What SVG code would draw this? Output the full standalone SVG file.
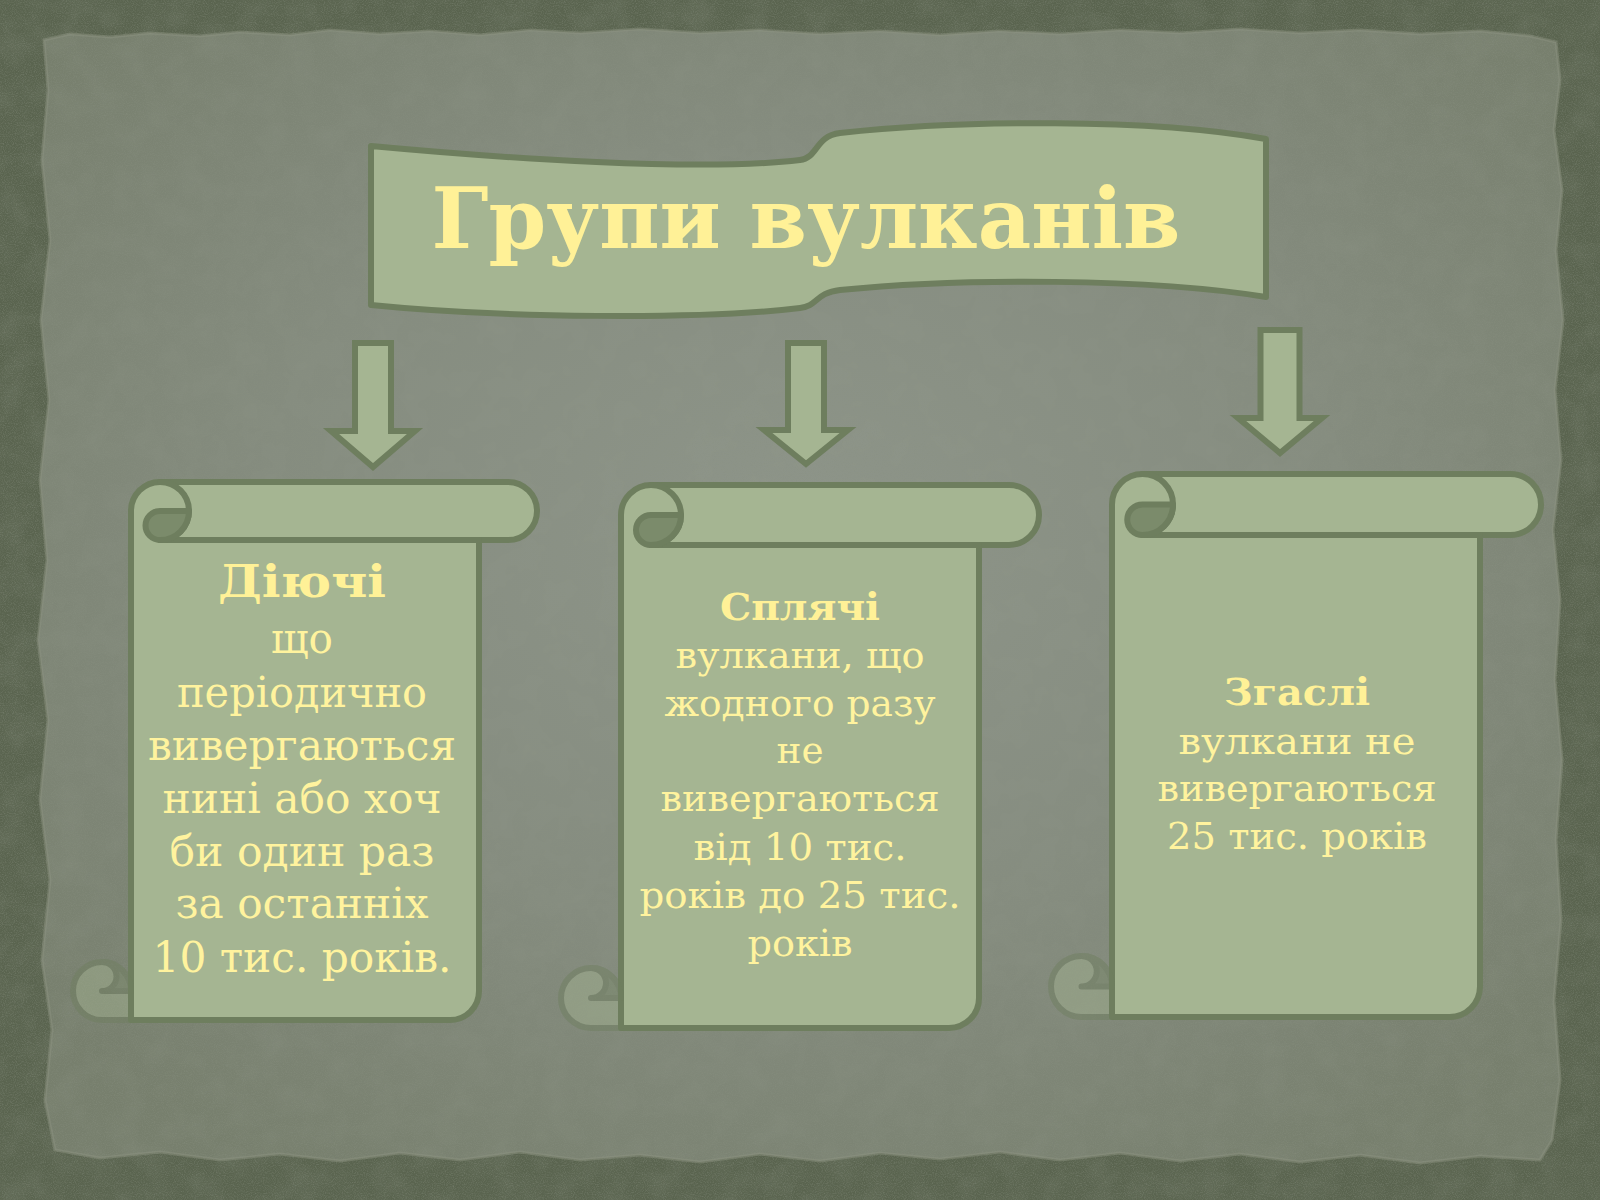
<svg xmlns="http://www.w3.org/2000/svg" width="1600" height="1200" viewBox="0 0 1600 1200">
  <defs>
    <radialGradient id="paperGrad" cx="50%" cy="45%" r="65%">
      <stop offset="0" stop-color="#8e958a"/>
      <stop offset="0.55" stop-color="#858c7f"/>
      <stop offset="1" stop-color="#777f6d"/>
    </radialGradient>
    <filter id="noise" x="0" y="0" width="100%" height="100%">
      <feTurbulence type="fractalNoise" baseFrequency="0.9" numOctaves="2" seed="7"/>
      <feColorMatrix type="matrix" values="0 0 0 0 0.25  0 0 0 0 0.28  0 0 0 0 0.22  0.9 0 0 0 -0.38"/>
    </filter>
    <filter id="blotch" x="0" y="0" width="100%" height="100%">
      <feTurbulence type="fractalNoise" baseFrequency="0.035" numOctaves="3" seed="2"/>
      <feColorMatrix type="matrix" values="0 0 0 0 0.3  0 0 0 0 0.33  0 0 0 0 0.27  0.3 0 0 0 -0.12"/>
    </filter>
    <style>
      .shape { fill: #a5b592; stroke: #6e7e5e; stroke-width: 6; stroke-linejoin: round; }
      .line { fill: none; stroke: #6e7e5e; stroke-width: 6; stroke-linecap: round; }
      .dark { fill: #7b8b6b; stroke: #6e7e5e; stroke-width: 6; stroke-linejoin: round; }
      .faded { opacity: 0.45; }
      .arrow { fill: #a5b592; stroke: #6e7e5e; stroke-width: 6; stroke-linejoin: miter; }
      .title { font-family: "DejaVu Serif", "Liberation Serif", serif; font-weight: bold; font-size: 84px; fill: #fff197; text-anchor: middle; }
      .head { font-family: "DejaVu Serif", "Liberation Serif", serif; font-weight: bold; fill: #fff197; text-anchor: middle; }
      .t1 { font-family: "DejaVu Serif", "Liberation Serif", serif; font-size: 42px; fill: #fff39e; text-anchor: middle; }
      .t2 { font-family: "DejaVu Serif", "Liberation Serif", serif; font-size: 38px; fill: #fff39e; text-anchor: middle; }
    </style>
  </defs>

  <!-- background -->
  <rect x="0" y="0" width="1600" height="1200" fill="#5a644f"/>
  <path id="paper" fill="url(#paperGrad)" stroke="#8b917f" stroke-width="3" stroke-opacity="0.5"
    d="M44,40 L70,34 L110,37 L150,33 L200,36 L240,32 L290,35 L330,30 L380,34 L430,31 L480,35 L530,30 L580,33 L640,29 L700,33 L760,30 L820,34 L880,31 L940,35 L1000,31 L1060,34 L1120,30 L1180,33 L1240,29 L1300,33 L1360,30 L1420,34 L1480,31 L1530,36 L1556,42 L1560,80 L1554,130 L1562,190 L1556,250 L1563,320 L1555,390 L1561,460 L1553,530 L1560,600 L1555,680 L1562,760 L1556,840 L1561,920 L1554,1000 L1560,1080 L1552,1140 L1540,1160 L1480,1156 L1420,1163 L1360,1155 L1300,1162 L1240,1154 L1180,1161 L1120,1153 L1060,1160 L1000,1152 L940,1159 L880,1153 L820,1161 L760,1154 L700,1162 L640,1155 L580,1160 L520,1152 L460,1160 L400,1153 L340,1161 L280,1154 L220,1160 L160,1152 L100,1158 L55,1150 L45,1100 L52,1030 L42,960 L50,880 L40,800 L48,720 L38,640 L47,560 L40,480 L49,400 L41,320 L50,240 L42,160 L48,90 Z"/>
  <rect x="0" y="0" width="1600" height="1200" filter="url(#blotch)"/>
  <rect x="0" y="0" width="1600" height="1200" filter="url(#noise)"/>

  <!-- title banner -->
  <g id="title">
    <path class="shape" d="M371,146 C500,158 700,172 800,160 C818,158 815,136 840,133 C960,120 1150,118 1266,139 L1266,297 C1150,278 960,278 840,290 C815,293 818,306 800,308 C700,320 500,318 371,305 Z"/>
    <text class="title" x="806" y="248" textLength="749" lengthAdjust="spacingAndGlyphs">Групи вулканів</text>
  </g>

  <!-- connectors -->
  <g id="connectors">
    <path class="arrow" d="M355,343 L391,343 L391,431 L415,431 L373,467 L331,431 L355,431 Z"/>
    <path class="arrow" d="M788,343 L824,343 L824,430 L848,430 L806,464 L764,430 L788,430 Z"/>
    <path class="arrow" d="M1260.5,330 L1299.5,330 L1299.5,418 L1322,418 L1280,453 L1238,418 L1260.5,418 Z"/>
  </g>

  <!-- scroll 1 -->
  <g id="scroll-active">
    <path class="shape" d="M131,511 A29,29 0 0 1 160,482 L508,482 A29,29 0 0 1 508,540 L479,540 L479,991 A29,29 0 0 1 450,1020 L131,1020 Z"/>
    <path class="line" d="M160,540 L479,540"/>
    <path class="line" d="M160,482 A29,29 0 0 1 160,540"/>
    <path class="dark" d="M160,540 A14.5,14.5 0 0 1 160,511 L189,511 A29,29 0 0 1 160,540 Z"/>
    <g class="faded">
      <path class="shape" d="M102,1020 A29,29 0 0 1 102,962 A29,29 0 0 1 131,991 L131,1020 Z"/>
      <path class="dark" d="M102,962 A29,29 0 0 1 131,991 L102,991 A14.5,14.5 0 0 0 102,962 Z"/>
    </g>
    <text class="head" x="302" y="597" font-size="45" textLength="168" lengthAdjust="spacingAndGlyphs">Діючі</text>
    <text class="t1" x="302" y="653" textLength="62" lengthAdjust="spacingAndGlyphs">що</text>
    <text class="t1" x="302" y="707" textLength="250" lengthAdjust="spacingAndGlyphs">періодично</text>
    <text class="t1" x="302" y="760" textLength="308" lengthAdjust="spacingAndGlyphs">вивергаються</text>
    <text class="t1" x="302" y="813" textLength="279" lengthAdjust="spacingAndGlyphs">нині або хоч</text>
    <text class="t1" x="302" y="866" textLength="265" lengthAdjust="spacingAndGlyphs">би один раз</text>
    <text class="t1" x="302" y="918" textLength="253" lengthAdjust="spacingAndGlyphs">за останніх</text>
    <text class="t1" x="302" y="972" textLength="299" lengthAdjust="spacingAndGlyphs">10 тис. років.</text>
  </g>

  <!-- scroll 2 -->
  <g id="scroll-dormant">
    <path class="shape" d="M621,515 A30,30 0 0 1 651,485 L1009,485 A30,30 0 0 1 1009,545 L979,545 L979,998 A30,30 0 0 1 949,1028 L621,1028 Z"/>
    <path class="line" d="M651,545 L979,545"/>
    <path class="line" d="M651,485 A30,30 0 0 1 651,545"/>
    <path class="dark" d="M651,545 A15,15 0 0 1 651,515 L681,515 A30,30 0 0 1 651,545 Z"/>
    <g class="faded">
      <path class="shape" d="M591,1028 A30,30 0 0 1 591,968 A30,30 0 0 1 621,998 L621,1028 Z"/>
      <path class="dark" d="M591,968 A30,30 0 0 1 621,998 L591,998 A15,15 0 0 0 591,968 Z"/>
    </g>
    <text class="head" x="800" y="620" font-size="38" textLength="160" lengthAdjust="spacingAndGlyphs">Сплячі</text>
    <text class="t2" x="800" y="668" textLength="249" lengthAdjust="spacingAndGlyphs">вулкани, що</text>
    <text class="t2" x="800" y="716" textLength="271" lengthAdjust="spacingAndGlyphs">жодного разу</text>
    <text class="t2" x="800" y="763" textLength="47" lengthAdjust="spacingAndGlyphs">не</text>
    <text class="t2" x="800" y="811" textLength="279" lengthAdjust="spacingAndGlyphs">вивергаються</text>
    <text class="t2" x="800" y="860" textLength="213" lengthAdjust="spacingAndGlyphs">від 10 тис.</text>
    <text class="t2" x="800" y="908" textLength="321" lengthAdjust="spacingAndGlyphs">років до 25 тис.</text>
    <text class="t2" x="800" y="956" textLength="105" lengthAdjust="spacingAndGlyphs">років</text>
  </g>

  <!-- scroll 3 -->
  <g id="scroll-extinct">
    <path class="shape" d="M1112,504.5 A30.5,30.5 0 0 1 1142.5,474 L1510.5,474 A30.5,30.5 0 0 1 1510.5,535 L1480,535 L1480,986.5 A30.5,30.5 0 0 1 1449.5,1017 L1112,1017 Z"/>
    <path class="line" d="M1142.5,535 L1480,535"/>
    <path class="line" d="M1142.5,474 A30.5,30.5 0 0 1 1142.5,535"/>
    <path class="dark" d="M1142.5,535 A15.25,15.25 0 0 1 1142.5,504.5 L1173,504.5 A30.5,30.5 0 0 1 1142.5,535 Z"/>
    <g class="faded">
      <path class="shape" d="M1081.5,1017 A30.5,30.5 0 0 1 1081.5,956 A30.5,30.5 0 0 1 1112,986.5 L1112,1017 Z"/>
      <path class="dark" d="M1081.5,956 A30.5,30.5 0 0 1 1112,986.5 L1081.5,986.5 A15.25,15.25 0 0 0 1081.5,956 Z"/>
    </g>
    <text class="head" x="1297" y="705" font-size="38" textLength="146" lengthAdjust="spacingAndGlyphs">Згаслі</text>
    <text class="t2" x="1297" y="754" textLength="237" lengthAdjust="spacingAndGlyphs">вулкани не</text>
    <text class="t2" x="1297" y="801" textLength="279" lengthAdjust="spacingAndGlyphs">вивергаються</text>
    <text class="t2" x="1297" y="849" textLength="260" lengthAdjust="spacingAndGlyphs">25 тис. років</text>
  </g>
</svg>
